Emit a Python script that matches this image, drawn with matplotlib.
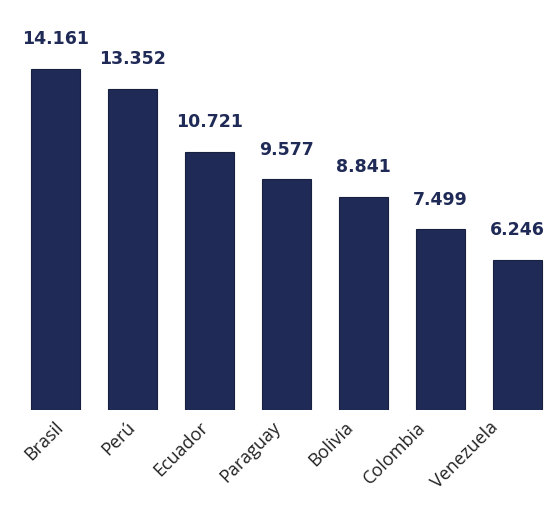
import matplotlib.pyplot as plt

countries = ['Brasil', 'Perú', 'Ecuador', 'Paraguay', 'Bolivia', 'Colombia', 'Venezuela']
values = [14.161, 13.352, 10.721, 9.577, 8.841, 7.499, 6.246]
value_labels = ['14.161', '13.352', '10.721', '9.577', '8.841', '7.499', '6.246']

navy = '#1f2a56'

fig = plt.figure(figsize=(5.51, 5.25), dpi=100)
ax = fig.add_axes([17 / 551, 1 - 410 / 525, 534 / 551, 410 / 525])

x = list(range(len(countries)))
ax.bar(x, values, width=0.64, color=navy, edgecolor='#17203f', linewidth=0.8)

for i, (v, lbl) in enumerate(zip(values, value_labels)):
    ax.annotate(lbl, (i, v), xytext=(0, 15), textcoords='offset points',
                ha='center', va='bottom', fontsize=12.5, fontweight='bold',
                color=navy, family='DejaVu Sans')

ax.set_xlim(-0.5, 6.435)
ax.set_ylim(0, 17.03)
ax.set_xticks([])
ax.tick_params(axis='y', left=False, labelleft=False)
for s in ax.spines.values():
    s.set_visible(False)

# category labels sit a bit tighter than the bars in the original
lab = ax.twiny()
lab.set_xlim(-0.51, 6.855)
lab.xaxis.set_ticks_position('bottom')
lab.xaxis.set_label_position('bottom')
lab.set_xticks(x)
lab.set_xticklabels(countries, rotation=45, ha='right', rotation_mode='anchor',
                    fontsize=13, family='Open Sans', color='#222222')
lab.tick_params(axis='x', length=0, pad=6)
for s in lab.spines.values():
    s.set_visible(False)

fig.savefig('out.png', dpi=100)
